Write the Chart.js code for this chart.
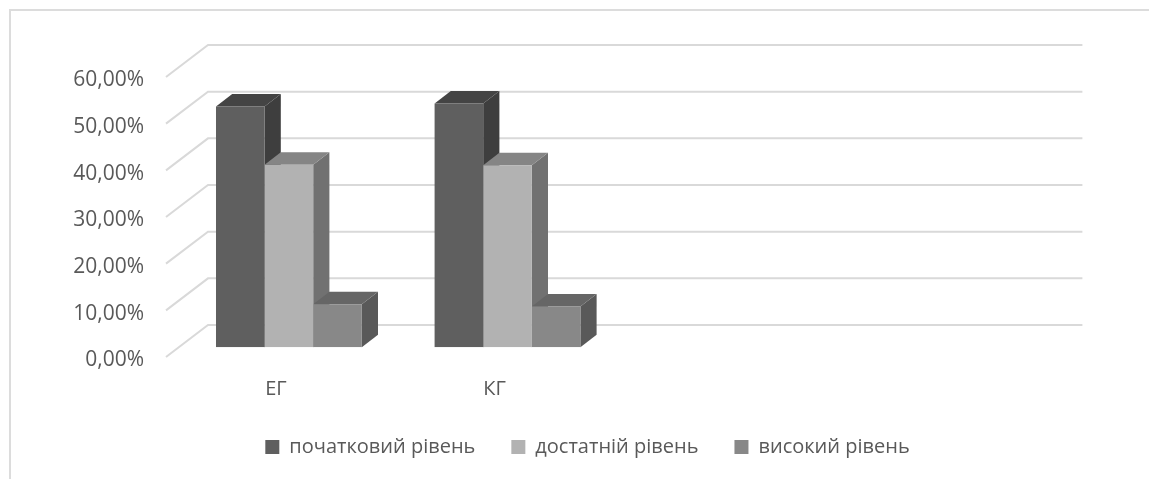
<!DOCTYPE html>
<html>
<head>
<meta charset="utf-8">
<style>
  html, body { margin: 0; padding: 0; background: #fff; overflow: hidden; }
  canvas { display: block; }
</style>
<script src="https://cdn.jsdelivr.net/npm/chart.js@4/dist/chart.umd.min.js"></script>
</head>
<body>
<canvas id="levels" width="1149" height="479"></canvas>
<script>
const groups = ['ЕГ', 'КГ', '', ''];
const initialLevel = [51.6, 52.2];
const sufficientLevel = [39.1, 39.0];
const highLevel = [9.2, 8.7];

const fontName = '"Open Sans", sans-serif';
const textColor = '#595959';
const gridColor = '#d9d9d9';

// front, top and side colours of each series
const shades = [
    { front: '#5f5f5f', top: '#444444', side: '#3e3e3e' },
    { front: '#b2b2b2', top: '#858585', side: '#717171' },
    { front: '#888888', top: '#666666', side: '#595959' }
];

// bar depth and box depth, in pixels
const barDepth = { x: 16.2, y: 12.5 };
const wallShift = { x: 28.4, y: -22.2 };
const frontShift = { x: -13.6, y: 9.8 };
const legendShift = 30.5;

function polygon(ctx, points, color) {
    ctx.fillStyle = color;
    ctx.beginPath();
    points.forEach(([x, y], i) => (i ? ctx.lineTo(x, y) : ctx.moveTo(x, y)));
    ctx.closePath();
    ctx.fill();
}

const box3d = {
    id: 'box3d',
    afterLayout(chart) {
        // the legend is centred on the frame, not on the plot area
        chart.legend.left += legendShift;
        chart.legend.right += legendShift;
    },
    beforeDraw(chart) {
        const { ctx, width, height } = chart;
        ctx.save();
        ctx.strokeStyle = '#dcdcdc';
        ctx.lineWidth = 2;
        ctx.beginPath();
        ctx.moveTo(width, 10);
        ctx.lineTo(10, 10);
        ctx.lineTo(10, height);
        ctx.stroke();
        ctx.restore();
    },
    beforeDatasetsDraw(chart) {
        const { ctx, chartArea, scales } = chart;
        ctx.save();

        // back wall lines and the slanted lines on the left side
        ctx.strokeStyle = gridColor;
        ctx.lineWidth = 2;
        scales.y.ticks.forEach(tick => {
            const y = scales.y.getPixelForValue(tick.value);
            ctx.beginPath();
            ctx.moveTo(chartArea.left + frontShift.x, y + frontShift.y);
            ctx.lineTo(chartArea.left + wallShift.x, y + wallShift.y);
            ctx.lineTo(chartArea.right + wallShift.x, y + wallShift.y);
            ctx.stroke();
        });

        // tops and sides, the front faces are painted over them by the bars
        groups.forEach((_, index) => {
            chart.data.datasets.forEach((dataset, d) => {
                const bar = chart.getDatasetMeta(d).data[index];
                if (!bar || dataset.data[index] == null) return;
                const left = bar.x - bar.width / 2;
                const right = bar.x + bar.width / 2;
                const dx = barDepth.x;
                const dy = barDepth.y;
                polygon(ctx, [[right, bar.y], [right + dx, bar.y - dy], [right + dx, bar.base - dy], [right, bar.base]], shades[d].side);
                polygon(ctx, [[left, bar.y], [left + dx, bar.y - dy], [right + dx, bar.y - dy], [right, bar.y]], shades[d].top);
            });
        });
        ctx.restore();
    }
};

new Chart(document.getElementById('levels'), {
    type: 'bar',
    data: {
        labels: groups,
        datasets: [
            { label: 'початковий рівень', data: initialLevel, backgroundColor: shades[0].front },
            { label: 'достатній рівень', data: sufficientLevel, backgroundColor: shades[1].front },
            { label: 'високий рівень', data: highLevel, backgroundColor: shades[2].front }
        ]
    },
    options: {
        responsive: false,
        animation: false,
        categoryPercentage: 0.667,
        barPercentage: 1,
        layout: { padding: { left: 60, right: 95, top: 67.2, bottom: 12 } },
        plugins: {
            tooltip: { enabled: false },
            legend: {
                position: 'bottom',
                labels: {
                    color: textColor,
                    font: { family: fontName, size: 20 },
                    boxWidth: 14,
                    boxHeight: 14,
                    padding: 36
                }
            }
        },
        scales: {
            x: {
                grid: { display: false, drawTicks: false },
                border: { display: false },
                ticks: {
                    color: textColor,
                    font: { family: fontName, size: 20 },
                    padding: 30,
                    labelOffset: -13,
                    maxRotation: 0,
                    autoSkip: false
                },
                afterFit(scale) { scale.height = 53.8; }
            },
            y: {
                min: 0,
                max: 60,
                grid: { display: false, drawTicks: false },
                border: { display: false },
                ticks: {
                    stepSize: 10,
                    color: textColor,
                    font: { family: fontName, size: 21 },
                    padding: 35.6,
                    labelOffset: 13,
                    callback: value => value.toFixed(2).replace('.', ',') + '%'
                },
                afterFit(scale) { scale.width = 119.6; }
            }
        }
    },
    plugins: [box3d]
});
</script>
</body>
</html>
